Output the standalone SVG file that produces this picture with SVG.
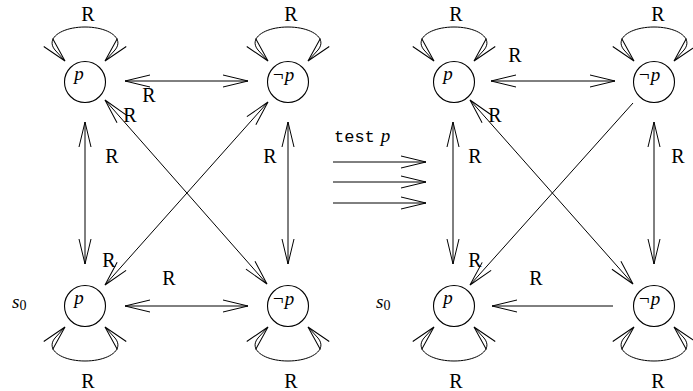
<svg xmlns="http://www.w3.org/2000/svg" xmlns:xlink="http://www.w3.org/1999/xlink" width="693" height="391" viewBox="0 0 693 391">
<style>
.n{fill:none;stroke:#000;stroke-width:1.1}
.e{fill:none;stroke:#000;stroke-width:1}
.lb{font-family:"Liberation Serif","DejaVu Serif",serif;font-size:20px;fill:#000;text-anchor:middle}
.it{font-family:"Liberation Serif","DejaVu Serif",serif;font-style:italic;font-size:19px;fill:#000}
.tt{font-family:"Liberation Mono","DejaVu Sans Mono",monospace;font-size:17px;fill:#000}
</style>
<defs>
<marker id="ah" markerUnits="userSpaceOnUse" markerWidth="30" markerHeight="16" viewBox="0 0 30 16" refX="25" refY="8" orient="auto-start-reverse" overflow="visible">
<path d="M0 2 L25 8 L0 14" fill="none" stroke="#000" stroke-width="1"/>
</marker>
<path id="loop" class="e" d="M -20 -21 L -30 -32 C -40 -44 -23 -55 0 -55 C 23 -55 40 -44 30 -32 L 20 -21" marker-start="url(#ah)" marker-end="url(#ah)"/>
</defs>
<rect width="693" height="391" fill="#fff"/>

<!-- left diagram nodes -->
<g id="L_p_top">
<circle class="n" cx="85" cy="82" r="20.5"/>
<text class="it" x="79" y="80" text-anchor="middle">p</text>
<use href="#loop" xlink:href="#loop" transform="translate(85,82)"/>
<text class="lb" x="88" y="21">R</text>
</g>
<g id="L_np_top">
<circle class="n" cx="288" cy="82" r="20.5"/>
<text class="it" x="283" y="81" text-anchor="middle">¬p</text>
<use href="#loop" xlink:href="#loop" transform="translate(288,82)"/>
<text class="lb" x="291" y="21">R</text>
</g>
<g id="L_p_bot">
<circle class="n" cx="85" cy="306" r="20.5"/>
<text class="it" x="79" y="304" text-anchor="middle">p</text>
<use href="#loop" xlink:href="#loop" transform="translate(85,306) scale(1,-1)"/>
<text class="lb" x="88" y="388">R</text>
<text class="it" x="12" y="308">s<tspan font-style="normal" font-size="14" dy="2">0</tspan></text>
</g>
<g id="L_np_bot">
<circle class="n" cx="288" cy="306" r="20.5"/>
<text class="it" x="283" y="305" text-anchor="middle">¬p</text>
<use href="#loop" xlink:href="#loop" transform="translate(288,306) scale(1,-1)"/>
<text class="lb" x="291" y="388">R</text>
</g>

<!-- right diagram nodes -->
<g id="R_p_top">
<circle class="n" cx="454" cy="82" r="20.5"/>
<text class="it" x="448" y="80" text-anchor="middle">p</text>
<use href="#loop" xlink:href="#loop" transform="translate(454,82)"/>
<text class="lb" x="456" y="21">R</text>
</g>
<g id="R_np_top">
<circle class="n" cx="654" cy="82" r="20.5"/>
<text class="it" x="649" y="81" text-anchor="middle">¬p</text>
<use href="#loop" xlink:href="#loop" transform="translate(654,82)"/>
<text class="lb" x="658" y="21">R</text>
</g>
<g id="R_p_bot">
<circle class="n" cx="454" cy="306" r="20.5"/>
<text class="it" x="448" y="304" text-anchor="middle">p</text>
<use href="#loop" xlink:href="#loop" transform="translate(454,306) scale(1,-1)"/>
<text class="lb" x="456" y="388">R</text>
<text class="it" x="376" y="308">s<tspan font-style="normal" font-size="14" dy="2">0</tspan></text>
</g>
<g id="R_np_bot">
<circle class="n" cx="654" cy="306" r="20.5"/>
<text class="it" x="649" y="305" text-anchor="middle">¬p</text>
<use href="#loop" xlink:href="#loop" transform="translate(654,306) scale(1,-1)"/>
<text class="lb" x="658" y="388">R</text>
</g>

<!-- connectors -->
<g id="connectors">
<path class="e" d="M125 81 L248 81" marker-start="url(#ah)" marker-end="url(#ah)"/>
<path class="e" d="M125 306 L248 306" marker-start="url(#ah)" marker-end="url(#ah)"/>
<path class="e" d="M85 122 L85 264" marker-start="url(#ah)" marker-end="url(#ah)"/>
<path class="e" d="M288 122 L288 264" marker-start="url(#ah)" marker-end="url(#ah)"/>
<path class="e" d="M105 100 L267 284" marker-start="url(#ah)" marker-end="url(#ah)"/>
<path class="e" d="M105 285 L268 102" marker-start="url(#ah)" marker-end="url(#ah)"/>

<path class="e" d="M491 81 L615 81" marker-start="url(#ah)" marker-end="url(#ah)"/>
<path class="e" d="M613 306 L492 306" marker-end="url(#ah)"/>
<path class="e" d="M453 122 L453 264" marker-start="url(#ah)" marker-end="url(#ah)"/>
<path class="e" d="M654 122 L654 264" marker-start="url(#ah)" marker-end="url(#ah)"/>
<path class="e" d="M470 100 L633 284" marker-start="url(#ah)" marker-end="url(#ah)"/>
<path class="e" d="M633 103 L470 285" marker-end="url(#ah)"/>

<path class="e" d="M333 162 L426 162" marker-end="url(#ah)"/>
<path class="e" d="M333 182 L426 182" marker-end="url(#ah)"/>
<path class="e" d="M333 203 L426 203" marker-end="url(#ah)"/>
</g>

<!-- edge labels -->
<g id="labels">
<text class="lb" x="149" y="102">R</text>
<text class="lb" x="130" y="122">R</text>
<text class="lb" x="112" y="163">R</text>
<text class="lb" x="270" y="163">R</text>
<text class="lb" x="109" y="267">R</text>
<text class="lb" x="169" y="285">R</text>
<text class="lb" x="515" y="62">R</text>
<text class="lb" x="495" y="122">R</text>
<text class="lb" x="475" y="163">R</text>
<text class="lb" x="678" y="163">R</text>
<text class="lb" x="475" y="267">R</text>
<text class="lb" x="536" y="285">R</text>
<text x="334" y="142"><tspan class="tt">test</tspan><tspan class="it" dx="6">p</tspan></text>
</g>
</svg>
